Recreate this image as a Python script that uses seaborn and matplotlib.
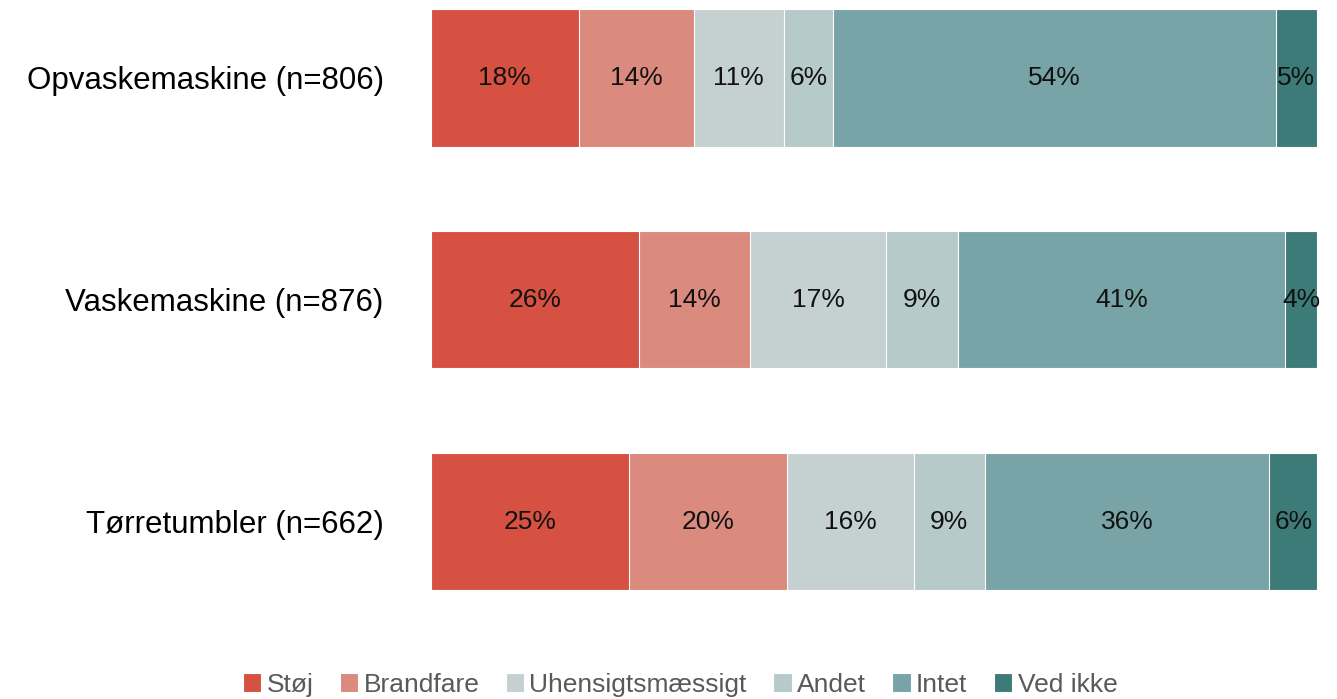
import numpy as np
import pandas as pd
import seaborn as sns
import matplotlib.pyplot as plt

# data
apparater = ["Opvaskemaskine (n=806)", "Vaskemaskine (n=876)", "Tørretumbler (n=662)"]
kategorier = ["Støj", "Brandfare", "Uhensigtsmæssigt", "Andet", "Intet", "Ved ikke"]
stoj = [18, 26, 25]
brandfare = [14, 14, 20]
uhensigt = [11, 17, 16]
andet = [6, 9, 9]
intet = [54, 41, 36]
ved_ikke = [5, 4, 6]
farver = ["#D65141", "#DB8A7E", "#C5D1D1", "#B6CACA", "#78A4A8", "#3D7B78"]

sns.set_theme(style="white")
plt.rcParams['font.family'] = ['Liberation Sans', 'DejaVu Sans']

vals = np.array([stoj, brandfare, uhensigt, andet, intet, ved_ikke], dtype=float)
# bars are scaled so each row fills the whole width
andel = vals / vals.sum(axis=0)
kum = andel.cumsum(axis=0)

fig, ax = plt.subplots(figsize=(13.37, 6.99), dpi=100)
fig.subplots_adjust(left=0.3224, right=0.985, top=1.0, bottom=0.0949)

# draw cumulative bars from the back so the segments stack
for i in reversed(range(len(kategorier))):
    df = pd.DataFrame({"apparat": apparater, "kum": kum[i]})
    sns.barplot(data=df, x="kum", y="apparat", orient="h", color=farver[i],
                saturation=1, width=0.62, edgecolor="white", linewidth=0.8,
                label=kategorier[i], ax=ax)

for i in range(len(kategorier)):
    for j in range(len(apparater)):
        midt = kum[i, j] - andel[i, j] / 2
        ax.text(midt, j, f"{int(vals[i, j])}%", ha="center", va="center",
                fontsize=19, color="#111111")

ax.set_xlim(0, 1)
ax.set_ylim(2.5, -0.35)
ax.set_xlabel("")
ax.set_ylabel("")
ax.set_xticks([])
ax.tick_params(axis="y", labelsize=22.5, colors="#000000", length=0, pad=34)
sns.despine(ax=ax, left=True, bottom=True)

handles, labels = ax.get_legend_handles_labels()
order = [labels.index(k) for k in kategorier]
leg = ax.legend([handles[k] for k in order], [labels[k] for k in order],
                loc="center", bbox_to_anchor=(0.281, -0.082),
                ncol=6, frameon=False, fontsize=19, handlelength=0.7,
                handleheight=0.7, handletextpad=0.2, columnspacing=1.0)
for t in leg.get_texts():
    t.set_color("#595959")

fig.savefig("out.png", dpi=100)
